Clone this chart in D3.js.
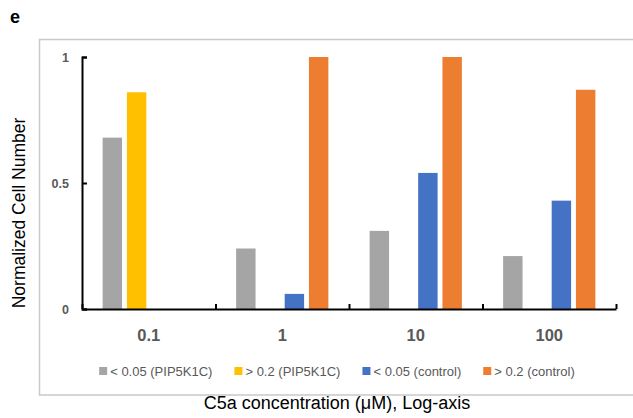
<!DOCTYPE html>
<html>
<head>
<meta charset="utf-8">
<script src="https://cdn.jsdelivr.net/npm/d3@7"></script>
<style>
  body { margin: 0; background: #fff; }
  svg { display: block; font-family: "Liberation Sans", Arial, sans-serif; }
</style>
</head>
<body>
<div id="chart"></div>
<script>
// chart data
var concentrations = ["0.1", "1", "10", "100"];
var seriesNames = ["< 0.05 (PIP5K1C)", "> 0.2 (PIP5K1C)", "< 0.05 (control)", "> 0.2 (control)"];
var seriesColors = ["#A5A5A5", "#FFC000", "#4472C4", "#ED7D31"];
var lowPIP = [0.68, 0.24, 0.31, 0.21];
var highPIP = [0.86, 0, 0, 0];
var lowControl = [0, 0.06, 0.54, 0.43];
var highControl = [0, 1.0, 1.0, 0.87];
var yTicks = [0, 0.5, 1];

var seriesValues = [lowPIP, highPIP, lowControl, highControl];

var width = 633,
    height = 418,
    plotLeft = 82, plotRight = 616,
    plotTop = 57, plotBottom = 309;

var svg = d3.select("#chart").append("svg")
    .attr("width", width)
    .attr("height", height);

// panel letter
svg.append("text")
    .attr("x", 10).attr("y", 23)
    .style("font-size", "18px")
    .style("font-weight", "bold")
    .text("e");

// chart frame (right side runs off the picture)
svg.append("rect")
    .attr("x", 39.5).attr("y", 39.5)
    .attr("width", 596).attr("height", 355.5)
    .attr("fill", "none")
    .attr("stroke", "#C9C9C9")
    .attr("stroke-width", 1.5);

var x0 = d3.scaleBand()
    .domain(concentrations)
    .range([plotLeft, plotRight]);

var x1 = d3.scaleBand()
    .domain(seriesNames)
    .range([0, x0.bandwidth()])
    .paddingInner(0.2)
    .paddingOuter(0.85);

var y = d3.scaleLinear()
    .domain([0, 1])
    .range([plotBottom, plotTop]);

var color = d3.scaleOrdinal()
    .domain(seriesNames)
    .range(seriesColors);

// bars
var rows = [];
concentrations.forEach(function(c, i){
    seriesNames.forEach(function(s, j){
        rows.push({conc: c, series: s, value: seriesValues[j][i]});
    });
});

svg.append("g").selectAll("rect")
    .data(rows.filter(function(d){ return d.value > 0; }))
    .enter().append("rect")
    .attr("x", function(d){ return x0(d.conc) + x1(d.series); })
    .attr("width", x1.bandwidth())
    .attr("y", function(d){ return y(d.value); })
    .attr("height", function(d){ return y(0) - y(d.value); })
    .attr("fill", function(d){ return color(d.series); });

// y axis, ticks pointing inward
var yAxis = svg.append("g")
    .attr("transform", "translate(" + plotLeft + ",0)")
    .call(d3.axisLeft(y).tickValues(yTicks).tickSize(-5).tickPadding(13)
        .tickFormat(function(d){ return d3.format("")(d); }));
yAxis.selectAll("path, line").attr("stroke", "#000").attr("stroke-width", 2);
yAxis.selectAll("text")
    .style("font-size", "12.5px")
    .style("font-weight", "bold")
    .attr("fill", "#595959");

// x axis with boundary ticks
var xb = d3.scaleLinear().domain([0, concentrations.length]).range([plotLeft, plotRight]);
var xAxis = svg.append("g")
    .attr("transform", "translate(0," + plotBottom + ")")
    .call(d3.axisBottom(xb).ticks(concentrations.length).tickSize(-5).tickSizeOuter(0).tickFormat(""));
xAxis.selectAll("path, line").attr("stroke", "#000").attr("stroke-width", 2);

// category labels
var xLabels = svg.append("g")
    .attr("transform", "translate(0," + plotBottom + ")")
    .call(d3.axisBottom(x0).tickSize(0).tickPadding(20));
xLabels.select(".domain").remove();
xLabels.selectAll("text")
    .style("font-size", "16.5px")
    .style("font-weight", "bold")
    .attr("fill", "#595959");

// legend
var legend = svg.append("g").attr("transform", "translate(0,371)");
var items = legend.selectAll("g")
    .data(seriesNames)
    .enter().append("g");
items.append("rect")
    .attr("x", 0).attr("y", -4)
    .attr("width", 8).attr("height", 8)
    .attr("fill", function(d){ return color(d); });
items.append("text")
    .attr("x", 11).attr("dy", "0.35em")
    .style("font-size", "13px")
    .attr("fill", "#595959")
    .text(function(d){ return d; });
var pos = 0, offsets = [];
items.each(function(){
    offsets.push(pos);
    pos += 11 + d3.select(this).select("text").node().getComputedTextLength() + 22;
});
var total = pos - 22, start = 337 - total / 2;
items.attr("transform", function(d, i){ return "translate(" + (start + offsets[i]) + ",0)"; });

// axis titles
svg.append("text")
    .attr("transform", "translate(25,213) rotate(-90)")
    .attr("text-anchor", "middle")
    .style("font-size", "17.5px")
    .text("Normalized Cell Number");

svg.append("text")
    .attr("x", 337).attr("y", 409)
    .attr("text-anchor", "middle")
    .style("font-size", "18px")
    .text("C5a concentration (\u03BCM), Log-axis");
</script>
</body>
</html>
